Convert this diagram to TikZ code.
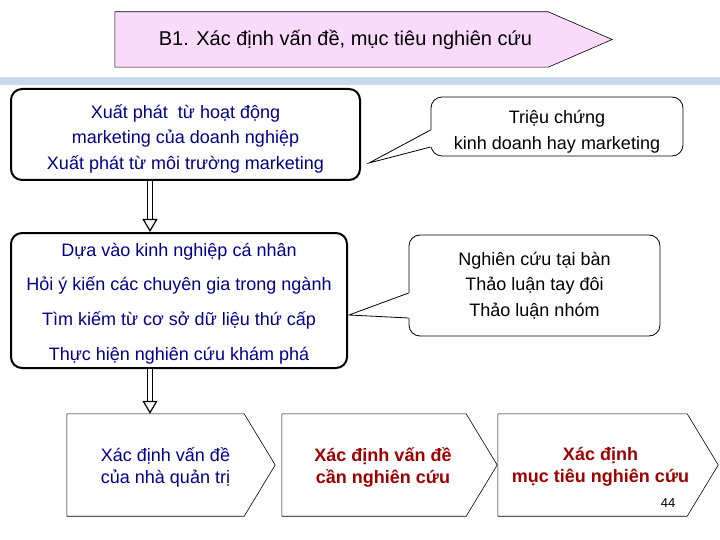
\documentclass[tikz,border=0pt]{standalone}
\usepackage{fontspec}
\setmainfont{Liberation Sans}
\usetikzlibrary{calc,arrows.meta}

\definecolor{titlepink}{RGB}{250,218,250}
\definecolor{bandblue}{RGB}{200,216,238}
\definecolor{navytext}{RGB}{0,0,140}
\definecolor{redtext}{RGB}{160,0,0}

\begin{document}
\begin{tikzpicture}[x=1pt,y=-1pt,
  every node/.style={font=\fontsize{18}{25.5}\selectfont,inner sep=0pt},
  bigbox/.style={draw,line width=2pt,rounded corners=11pt,fill=white},
  callbox/.style={draw,line width=0.8pt,rounded corners=11pt,fill=white},
  chevbox/.style={minimum height=102pt},
  flow/.style={double,double distance=4pt,line width=1.2pt,-{Triangle[open,fill=white,width=15pt,length=13pt,line width=1.2pt]}}]

\useasboundingbox (0,0) rectangle (720,540);

% title arrow
\node[minimum width=433pt,minimum height=55pt] (title) at (331.5,39.5) {};
\draw [fill=titlepink,line width=0.6pt] (title.north west) -- (title.north east) -- ($(title.east)+(64,0)$) -- (title.south east) -- (title.south west) -- cycle;
\node[font=\fontsize{20}{24}\selectfont] (titletxt) at ($(title.center)+(14,0)$) {B1. Xác định vấn đề, mục tiêu nghiên cứu};

% blue band
\fill [bandblue] (0,77) rectangle (720,85);

% upper boxes
\node[bigbox,minimum width=349pt,minimum height=91pt] (source) at (185.5,134.5) {};
\node[align=center,text=navytext] (sourcetxt) at ($(source.center)+(0,4)$)
  {Xuất phát\ \ từ hoạt động\\marketing của doanh nghiệp\\Xuất phát từ môi trường marketing};
\node[callbox,minimum width=252pt,minimum height=59pt] (symptom) at (557,126.5) {};
\node[align=center] (symptomtxt) at ($(symptom.center)+(0,5)$) {Triệu chứng\\kinh doanh hay marketing};
\coordinate (tipA) at (369,163);
\fill [white] (tipA) -- ($(symptom.west)+(1.5,3.5)$) -- ($(symptom.west)+(1.5,20.5)$) -- cycle;
\draw [line width=0.8pt] ($(symptom.west)+(0,3.5)$) -- (tipA) -- ($(symptom.west)+(0,20.5)$);

\node[bigbox,minimum width=336pt,minimum height=135pt] (methods) at (179,300.5) {};
\node[align=center,text=navytext,font=\fontsize{18}{34.7}\selectfont] (methodstxt) at ($(methods.center)+(0,3)$)
  {Dựa vào kinh nghiệp cá nhân\\Hỏi ý kiến các chuyên gia trong ngành\\Tìm kiếm từ cơ sở dữ liệu thứ cấp\\Thực hiện nghiên cứu khám phá};
\node[callbox,minimum width=251pt,minimum height=101pt] (qualit) at (534.5,285.5) {};
\node[align=center] (qualittxt) at (qualit.center) {Nghiên cứu tại bàn\\Thảo luận tay đôi\\Thảo luận nhóm};
\coordinate (tipB) at (349,315);
\fill [white] (tipB) -- ($(qualit.west)+(1.5,7.5)$) -- ($(qualit.west)+(1.5,32.5)$) -- cycle;
\draw [line width=0.8pt] ($(qualit.west)+(0,7.5)$) -- (tipB) -- ($(qualit.west)+(0,32.5)$);

% bottom chevrons
\node[chevbox,minimum width=177pt] (defA) at (155.5,465) {};
\node[chevbox,minimum width=184pt] (defB) at (374,465) {};
\node[chevbox,minimum width=189pt] (defC) at (592.5,465) {};
\foreach \b in {defA,defB,defC}
  \draw [fill=white,line width=0.6pt] (\b.north west) -- (\b.north east) -- ($(\b.east)+(31,0)$) -- (\b.south east) -- (\b.south west) -- cycle;

\node[align=center,text=navytext,font=\fontsize{18}{22}\selectfont] (defAtxt) at ($(defA.center)+(10,2)$) {Xác định vấn đề\\của nhà quản trị};
\node[align=center,text=redtext,font=\fontsize{18}{22}\selectfont\bfseries] (defBtxt) at ($(defB.center)+(9,2)$) {Xác định vấn đề\\cần nghiên cứu};
\node[align=center,text=redtext,font=\fontsize{18}{22}\selectfont\bfseries] (defCtxt) at ($(defC.center)+(8,2)$) {Xác định\\mục tiêu nghiên cứu};
\node[font=\fontsize{13}{15}\selectfont] (pagenum) at (668,503) {44};

% flow arrows
\coordinate (ax) at (150,0);
\draw [flow] (ax |- source.south) -- (ax |- methods.north);
\draw [flow] (ax |- methods.south) -- (ax |- defA.north);

\end{tikzpicture}
\end{document}
